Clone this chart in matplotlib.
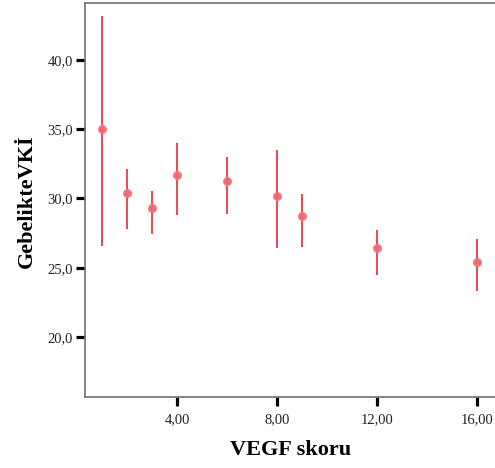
import numpy as np
import matplotlib.pyplot as plt

# VEGF skoru vs GebelikteVKİ (mean with error bars)
vegf = [1, 2, 3, 4, 6, 8, 9, 12, 16]
vki_mean = [35.0, 30.36, 29.3, 31.66, 31.23, 30.17, 28.7, 26.42, 25.4]
vki_upper = [43.15, 32.1, 30.5, 34.0, 33.0, 33.5, 30.3, 27.7, 27.1]
vki_lower = [26.56, 27.8, 27.45, 28.77, 28.87, 26.4, 26.5, 24.5, 23.3]

xticks = [4, 8, 12, 16]
xticklabels = ["4,00", "8,00", "12,00", "16,00"]
yticks = [20, 25, 30, 35, 40]
yticklabels = ["20,0", "25,0", "30,0", "35,0", "40,0"]

plt.rcParams['font.family'] = ['Liberation Serif', 'DejaVu Serif']

fig = plt.figure(figsize=(4.95, 4.68), dpi=100)
ax = fig.add_axes([85/495, 1-397/468, 412/495, 394/468])

mean = np.array(vki_mean)
err = [mean - np.array(vki_lower), np.array(vki_upper) - mean]
ax.errorbar(vegf, mean, yerr=err, fmt='none', ecolor='#e8161e', elinewidth=1.1, capsize=0)
ax.plot(vegf, mean, 'o', color='#f26670', markersize=5.5, markeredgecolor='#f47a80', alpha=0.95)

ax.set_xlim(0.32, 16.8)
ax.set_ylim(15.67, 44.1)
ax.set_xticks(xticks)
ax.set_xticklabels(xticklabels, fontsize=10.5, color='#222222')
ax.set_yticks(yticks)
ax.set_yticklabels(yticklabels, fontsize=10.5, color='#222222')
ax.tick_params(direction='out', length=6.5, width=2.3, color='black')
ax.tick_params(axis='y', pad=2)
ax.tick_params(axis='x', pad=5)

for s in ax.spines.values():
    s.set_color('#707070')
    s.set_linewidth(1.2)

fig.text(291/495, 1-450/468, "VEGF skoru", ha='center', va='center',
         fontsize=16, fontweight='bold')
fig.text(27/495, 1-201/468, "GebelikteVKİ", ha='center', va='center',
         fontsize=16, fontweight='bold', rotation=90)

fig.savefig('out.png', dpi=100)
